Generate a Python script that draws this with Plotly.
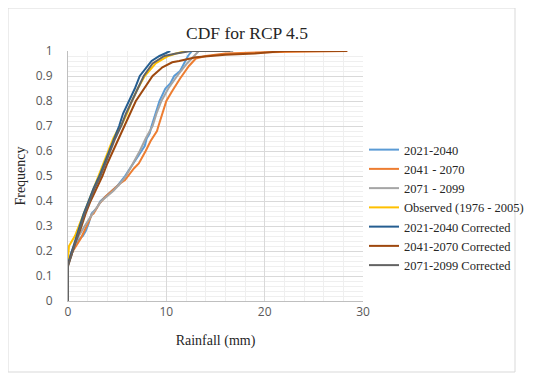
import plotly.graph_objects as go

# ---- data ----
names = ["2021-2040", "2041 - 2070", "2071 - 2099", "Observed (1976 - 2005)",
         "2021-2040 Corrected", "2041-2070 Corrected", "2071-2099 Corrected"]

s1_x = [0, 0, 0.4, 0.8, 1.2, 1.5, 1.8, 2.1, 2.4, 2.9, 3.3, 3.9, 4.5, 5.0, 5.4, 5.8, 6.3, 6.8, 7.2, 7.5, 7.8, 8.0, 8.3, 8.5, 8.9, 9.3, 9.9, 10.4, 10.8, 11.4, 11.8, 12.2, 12.6]
s1_y = [0, 0.15, 0.20, 0.23, 0.25, 0.26, 0.28, 0.31, 0.35, 0.37, 0.40, 0.42, 0.44, 0.46, 0.48, 0.50, 0.53, 0.56, 0.58, 0.60, 0.62, 0.65, 0.67, 0.70, 0.75, 0.80, 0.85, 0.87, 0.90, 0.92, 0.95, 0.98, 1.0]

s2_x = [0, 0, 0.5, 1.3, 1.9, 2.4, 2.6, 3.2, 3.8, 4.7, 5.3, 5.8, 6.3, 6.7, 7.2, 7.5, 7.9, 8.4, 9.05, 9.2, 9.6, 10.0, 10.6, 11.2, 11.4, 12.3, 13.0, 14.0, 16.0, 20.0, 24.0, 28.4]
s2_y = [0, 0.15, 0.20, 0.25, 0.30, 0.344, 0.35, 0.39, 0.417, 0.45, 0.47, 0.484, 0.51, 0.53, 0.55, 0.57, 0.60, 0.64, 0.68, 0.70, 0.75, 0.80, 0.84, 0.88, 0.89, 0.94, 0.97, 0.98, 0.99, 0.995, 0.998, 1.0]

s3_x = [0, 0, 0.5, 1.1, 1.7, 2.5, 3.4, 4.6, 5.3, 5.9, 6.6, 7.3, 7.9, 8.6, 9.0, 9.5, 10.2, 11.1, 12.1, 12.8, 13.3, 16.8]
s3_y = [0, 0.15, 0.21, 0.26, 0.30, 0.35, 0.40, 0.44, 0.47, 0.50, 0.55, 0.60, 0.65, 0.70, 0.75, 0.80, 0.85, 0.90, 0.95, 0.98, 1.0, 1.0]

s4_x = [0, 0, 0.1, 0.7, 1.1, 1.6, 2.1, 2.6, 3.1, 3.6, 4.1, 4.6, 5.0, 5.4, 6.0, 6.5, 7.1, 7.8, 8.9, 10.2, 11.0, 12.0]
s4_y = [0, 0.17, 0.22, 0.26, 0.30, 0.35, 0.40, 0.45, 0.50, 0.55, 0.60, 0.65, 0.68, 0.70, 0.75, 0.80, 0.85, 0.90, 0.95, 0.98, 0.99, 1.0]

s5_x = [0, 0, 0.4, 0.8, 1.2, 1.6, 2.1, 2.6, 3.2, 3.7, 4.2, 4.7, 5.2, 5.6, 6.2, 6.8, 7.3, 7.9, 8.5, 9.3, 9.8, 10.4]
s5_y = [0, 0.15, 0.20, 0.25, 0.30, 0.35, 0.40, 0.45, 0.50, 0.55, 0.60, 0.65, 0.70, 0.75, 0.80, 0.85, 0.90, 0.93, 0.96, 0.98, 0.99, 1.0]

s6_x = [0, 0, 0.4, 0.8, 1.3, 1.8, 2.3, 2.9, 3.5, 4.0, 4.6, 5.2, 5.8, 6.2, 6.9, 7.4, 7.9, 8.6, 9.6, 10.6, 11.3, 13.0, 16.0, 19.0, 22.0, 28.4]
s6_y = [0, 0.14, 0.19, 0.24, 0.29, 0.35, 0.40, 0.45, 0.50, 0.55, 0.60, 0.65, 0.70, 0.74, 0.80, 0.83, 0.86, 0.90, 0.935, 0.955, 0.96, 0.975, 0.985, 0.99, 1.0, 1.0]

s7_x = [0, 0, 0.4, 0.8, 1.2, 1.7, 2.2, 2.7, 3.3, 3.8, 4.3, 4.8, 5.4, 5.9, 6.5, 7.1, 7.7, 8.6, 9.8, 11.0, 12.5, 16.5]
s7_y = [0, 0.14, 0.19, 0.24, 0.29, 0.35, 0.40, 0.45, 0.50, 0.55, 0.60, 0.65, 0.70, 0.75, 0.80, 0.85, 0.90, 0.95, 0.98, 0.99, 1.0, 1.0]

xs = [s1_x, s2_x, s3_x, s4_x, s5_x, s6_x, s7_x]
ys = [s1_y, s2_y, s3_y, s4_y, s5_y, s6_y, s7_y]
colors = ["#5B9BD5", "#ED7D31", "#A5A5A5", "#FFC000", "#255E91", "#9E480E", "#636363"]

x_ticks = [0, 10, 20, 30]
y_ticks = [0, 0.1, 0.2, 0.3, 0.4, 0.5, 0.6, 0.7, 0.8, 0.9, 1]

fig = go.Figure()
for n, x, y, c in zip(names, xs, ys, colors):
    fig.add_trace(go.Scatter(x=x, y=y, mode="lines", name=n,
                             line=dict(color=c, width=2)))

serif = "Liberation Serif, Times New Roman, serif"
sans = "Open Sans, Calibri, sans-serif"

# page body has an 8px margin, so the figure's own margins are reduced by 8px
fig.update_layout(
    width=550, height=383,
    margin=dict(l=60, r=195, t=43, b=90),
    paper_bgcolor="white", plot_bgcolor="white",
    title=dict(text="CDF for RCP 4.5", x=(247 - 68) / 295, xref="paper",
               xanchor="center", y=1 - 25 / 383, yanchor="middle",
               font=dict(family=serif, size=17.5, color="#262626")),
    showlegend=True,
    legend=dict(x=(364 - 68) / 295, y=(301 - 135) / 250, xanchor="left", yanchor="top",
                font=dict(family=serif, size=12.5, color="#262626"),
                bgcolor="rgba(0,0,0,0)", tracegroupgap=0),
    xaxis=dict(range=[0, 30], tickvals=x_ticks, showgrid=True, gridcolor="#D9D9D9",
               gridwidth=1, zeroline=False, showline=True, linecolor="#BFBFBF",
               ticks="", automargin=False,
               tickfont=dict(family=sans, size=12, color="#595959"),
               minor=dict(dtick=2, showgrid=True, gridcolor="#EFEFEF", gridwidth=1),
               title=dict(text="Rainfall (mm)", font=dict(family=serif, size=14, color="#262626"),
                          standoff=15)),
    yaxis=dict(range=[0, 1], tickvals=y_ticks, showgrid=True, gridcolor="#D9D9D9",
               gridwidth=1, zeroline=False, showline=True, linecolor="#BFBFBF",
               ticks="", automargin=False, ticklabelstandoff=12,
               tickfont=dict(family=sans, size=12, color="#595959"),
               minor=dict(dtick=0.02, showgrid=True, gridcolor="#EFEFEF", gridwidth=1),
               title=dict(text="Frequency", font=dict(family=serif, size=14, color="#262626"),
                          standoff=6)),
    shapes=[dict(type="rect", xref="paper", yref="paper",
                 x0=(8 - 68) / 295, x1=(515 - 68) / 295,
                 y0=(301 - 372) / 250, y1=(301 - 8) / 250,
                 line=dict(color="#D9D9D9", width=1), fillcolor="rgba(0,0,0,0)", layer="below")],
)

fig.write_html("out.html")
